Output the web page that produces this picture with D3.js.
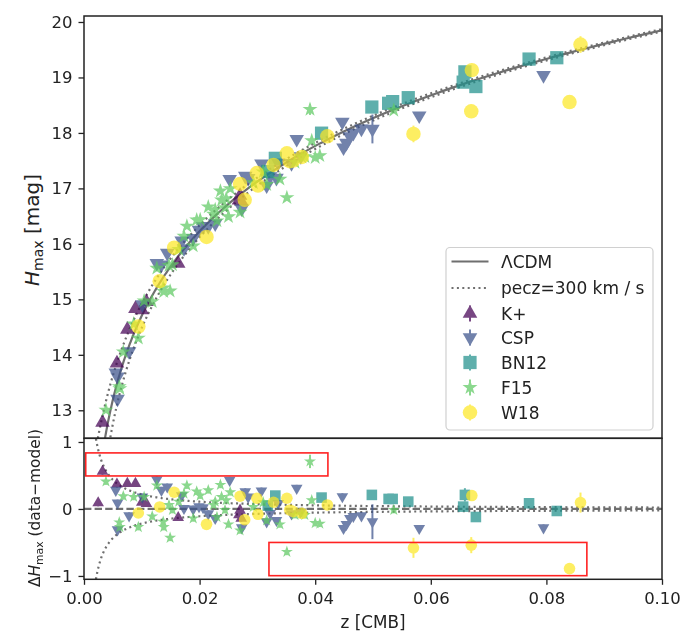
<!DOCTYPE html>
<html><head><meta charset="utf-8">
<script src="https://cdn.jsdelivr.net/npm/d3@7"></script>
<style>body{margin:0;background:#fff} text{font-family:"DejaVu Sans",sans-serif;fill:#222}</style>
</head><body><svg id="c" width="696" height="640"></svg>
<script>
// ---------- data ----------
const surveyNames = ["K+","CSP","BN12","F15","W18"];
const surveyColors = ["#440154","#3b528b","#21918c","#5ec962","#fde725"];
const surveySymbols = ["triUp","triDown","square","star","circle"];
const xTicks = [0,0.02,0.04,0.06,0.08,0.10];
const xTickLabels = ["0.00","0.02","0.04","0.06","0.08","0.10"];
const yTicksTop = [13,14,15,16,17,18,19,20];
const yTicksBottom = [-1,0,1];
const yTickLabelsBottom = ["\u22121","0","1"];
// [z, residual dH (data-model), error]
const dataKplus = [[0.0032,0.56],[0.00245,0.09],[0.0057,0.37],[0.0075,0.38],[0.0089,0.38],[0.0100,0.10],[0.0108,0.08],[0.0163,-0.13],[0.0268,-0.09],[0.0272,-0.14],[0.0270,-0.02]];
const dataCSP = [[0.0055,0.28],[0.0058,0.09],[0.0058,-0.31],[0.0078,-0.10],[0.0101,0.18],[0.0126,0.44],[0.0134,0.28],[0.0144,0.33],[0.0169,0.20],[0.0173,0.01],[0.0189,0.00],[0.0199,0.035],[0.0206,0.02],[0.0215,-0.07],[0.0227,-0.14],[0.0252,0.43],[0.0279,0.26],[0.0284,0.18],[0.0273,-0.28],[0.0307,0.27],[0.0316,-0.19],[0.0322,-0.065],[0.0333,-0.17],[0.0336,0.085],[0.0359,-0.07],[0.0368,0.31],[0.0375,-0.045],[0.0447,0.185],[0.0449,-0.29],[0.0454,-0.23],[0.0460,-0.14],[0.0466,-0.11],[0.0480,-0.10],[0.0499,-0.19,0.26],[0.0580,-0.29],[0.0795,-0.28]];
const dataBN12 = [[0.0318,0.05],[0.0331,0.20],[0.0411,0.17],[0.0498,0.21],[0.0527,0.15],[0.0534,0.15],[0.0561,0.11],[0.0656,0.035],[0.0659,0.21,0.1],[0.0678,-0.12],[0.0770,0.085],[0.0818,-0.03]];
const dataF15 = [[0.0038,0.41],[0.0061,-0.20],[0.0062,-0.27],[0.0068,0.19],[0.0086,0.18],[0.0094,-0.27],[0.0104,0.18],[0.0118,-0.11],[0.0126,0.35],[0.0137,-0.19],[0.0138,-0.27],[0.0149,-0.43],[0.0147,0.06],[0.0153,-0.015],[0.0164,0.11],[0.0173,0.23],[0.0178,0.35],[0.0189,-0.14],[0.0195,0.26],[0.0201,0.20],[0.0215,0.28],[0.0224,0.06],[0.0227,0.11],[0.0230,-0.12],[0.0236,0.36],[0.0238,0.18],[0.0244,-0.015],[0.0246,0.13],[0.0250,-0.23],[0.0253,0.25],[0.0270,-0.32],[0.0293,0.03],[0.0310,0.10],[0.0316,-0.17],[0.0339,-0.23],[0.0351,-0.64],[0.0365,-0.09],[0.0377,-0.07],[0.0382,-0.09],[0.0391,0.71,0.1],[0.0394,0.13],[0.0400,-0.21],[0.0408,-0.22],[0.0536,-0.015]];
const dataW18 = [[0.0094,-0.06],[0.0131,0.03],[0.0156,0.25],[0.0212,-0.23],[0.0270,0.19],[0.0278,-0.16],[0.0299,0.16],[0.0301,-0.08],[0.0328,0.10],[0.0351,0.16],[0.0356,-0.015],[0.0362,-0.04,0.08],[0.0377,-0.065],[0.0421,0.06],[0.0570,-0.58,0.15],[0.0671,0.20],[0.0670,-0.54,0.12],[0.0840,-0.89],[0.0859,0.095,0.15]];
const surveyData = [dataKplus,dataCSP,dataBN12,dataF15,dataW18];
// highlighted regions [z0, z1, dH0, dH1]
const boxes = [[0.0003,0.0422,0.493,0.837],[0.0320,0.0870,-0.996,-0.50]];
// cosmological model parameters
const H0 = 70, q0 = -0.55, Mabs = -18.47, cLight = 299792.458, pecV = 300;
const defaultErr = 0.05;

function lcdm(z){ return Mabs + 25 + 5*Math.log10(cLight*z/H0*(1+(1-q0)/2*z)); }
function peczOffset(z){ return 5/Math.LN10*pecV/(cLight*z); }

// ---------- layout ----------
const svg = d3.select("#c");
const L = 84, R = 662, T1 = 16, B1 = 438.3, T2 = 438.3, B2 = 579.3;
const x = d3.scaleLinear().domain([0,0.1]).range([L,R]);
const yTop = d3.scaleLinear().domain([12.495,20.108]).range([B1,T1]);
const yBot = d3.scaleLinear().domain([-1.05,1.055]).range([B2,T2]);

const defs = svg.append("defs");
defs.append("clipPath").attr("id","clipTop").append("rect").attr("x",L).attr("y",T1).attr("width",R-L).attr("height",B1-T1);
defs.append("clipPath").attr("id","clipBot").append("rect").attr("x",L).attr("y",T2).attr("width",R-L).attr("height",B2-T2);

const lineGray = "#6f6f6f";
const zs = d3.range(Math.log(0.0015), Math.log(0.1005), 0.01).map(Math.exp);

// top panel curves
const gT = svg.append("g").attr("clip-path","url(#clipTop)");
const lineT = d3.line().x(d=>x(d[0])).y(d=>yTop(d[1]));
gT.append("path").attr("d", lineT(zs.map(z=>[z,lcdm(z)]))).attr("fill","none").attr("stroke",lineGray).attr("stroke-width",2.2);
[1,-1].forEach(s=>{
  gT.append("path").attr("d", lineT(zs.map(z=>[z,lcdm(z)+s*peczOffset(z)]))).attr("fill","none")
    .attr("stroke",lineGray).attr("stroke-width",2.2).attr("stroke-dasharray","2,3.4");
});
// bottom panel curves
const gB = svg.append("g").attr("clip-path","url(#clipBot)");
const lineB = d3.line().x(d=>x(d[0])).y(d=>yBot(d[1]));
gB.append("path").attr("d", lineB([[0,0],[0.1,0]])).attr("fill","none").attr("stroke",lineGray).attr("stroke-width",2.2).attr("stroke-dasharray","7.4,3.2");
[1,-1].forEach(s=>{
  gB.append("path").attr("d", lineB(zs.map(z=>[z,s*peczOffset(z)]))).attr("fill","none")
    .attr("stroke",lineGray).attr("stroke-width",2.2).attr("stroke-dasharray","2,3.4");
});

// symbols
function symPath(kind, scale){
  const tri = 92*scale*scale, sq = 175*scale*scale, circ = 165*scale*scale, st = 70*scale*scale;
  if(kind==="triUp" || kind==="triDown") return d3.symbol(d3.symbolTriangle, tri)();
  if(kind==="square") return d3.symbol(d3.symbolSquare, sq)();
  if(kind==="star") return d3.symbol(d3.symbolStar, st)();
  return d3.symbol(d3.symbolCircle, circ)();
}
function drawPoints(g, yScale, yOf, scale){
  surveyData.forEach((arr,i)=>{
    const col = surveyColors[i], kind = surveySymbols[i];
    const gs = g.append("g").attr("opacity",0.72);
    arr.forEach(d=>{
      const e = d[2]!==undefined ? d[2] : defaultErr;
      const yv = yOf(d);
      gs.append("line").attr("x1",x(d[0])).attr("x2",x(d[0]))
        .attr("y1",yScale(yv-e)).attr("y2",yScale(yv+e)).attr("stroke",col).attr("stroke-width",2);
      gs.append("path").attr("d",symPath(kind,scale)).attr("fill",col)
        .attr("transform",`translate(${x(d[0])},${yScale(yv)})`+(kind==="triDown"?" rotate(180)":""));
    });
  });
}
drawPoints(gT, yTop, d=>lcdm(d[0])+d[1], 1);
drawPoints(gB, yBot, d=>d[1], 0.8);

// red boxes
boxes.forEach(b=>{
  svg.append("rect").attr("x",x(b[0])).attr("y",yBot(b[3])).attr("width",x(b[1])-x(b[0])).attr("height",yBot(b[2])-yBot(b[3]))
    .attr("fill","none").attr("stroke","#f22").attr("stroke-width",1.6);
});

// frames
svg.append("rect").attr("x",L).attr("y",T1).attr("width",R-L).attr("height",B1-T1).attr("fill","none").attr("stroke","#222").attr("stroke-width",1.5);
svg.append("rect").attr("x",L).attr("y",T2).attr("width",R-L).attr("height",B2-T2).attr("fill","none").attr("stroke","#222").attr("stroke-width",1.5);

// axes
const fs = 16.5;
const ax1 = svg.append("g").attr("transform",`translate(${L},0)`).call(d3.axisLeft(yTop).tickValues(yTicksTop).tickFormat(d3.format("d")).tickSize(5.5).tickPadding(6));
const ax2 = svg.append("g").attr("transform",`translate(${L},0)`).call(d3.axisLeft(yBot).tickValues(yTicksBottom).tickFormat((d,i)=>yTickLabelsBottom[i]).tickSize(5.5).tickPadding(6));
const ax3 = svg.append("g").attr("transform",`translate(0,${B2})`).call(d3.axisBottom(x).tickValues(xTicks).tickFormat((d,i)=>xTickLabels[i]).tickSize(5.5).tickPadding(7));
[ax1,ax2,ax3].forEach(a=>{
  a.select(".domain").remove();
  a.selectAll(".tick line").attr("stroke","#222").attr("stroke-width",1.3);
  a.selectAll(".tick text").attr("font-size",fs).attr("font-family","DejaVu Sans").attr("fill","#222");
});

// axis labels
const yl1 = svg.append("text").attr("transform","translate(39,230) rotate(-90)").attr("text-anchor","middle").attr("font-size",20);
yl1.append("tspan").attr("font-style","italic").text("H");
yl1.append("tspan").attr("font-size",14).attr("dy",4).text("max");
yl1.append("tspan").attr("dy",-4).text(" [mag]");
const yl2 = svg.append("text").attr("transform","translate(40,508) rotate(-90)").attr("text-anchor","middle").attr("font-size",15.4);
yl2.append("tspan").text("\u0394");
yl2.append("tspan").attr("font-style","italic").text("H");
yl2.append("tspan").attr("font-size",10.8).attr("dy",3).text("max");
yl2.append("tspan").attr("dy",-3).text(" (data\u2212model)");
svg.append("text").attr("x",(L+R)/2).attr("y",628).attr("text-anchor","middle").attr("font-size",16.8).text("z [CMB]");

// legend
const lg = svg.append("g");
lg.append("rect").attr("x",446).attr("y",247.5).attr("width",207).attr("height",182.5).attr("rx",4)
  .attr("fill","#fff").attr("fill-opacity",0.85).attr("stroke","#d0d0d0").attr("stroke-width",1.2);
const legY = [261.5,288,313.5,337.5,362.5,387.5,412.5];
const legLabels = ["\u039bCDM","pecz=300 km / s"].concat(surveyNames);
legLabels.forEach((t,i)=>{
  lg.append("text").attr("x",501).attr("y",legY[i]+6.2).attr("font-size",17).text(t);
});
lg.append("line").attr("x1",451.5).attr("x2",488.5).attr("y1",legY[0]).attr("y2",legY[0]).attr("stroke",lineGray).attr("stroke-width",2.2);
lg.append("line").attr("x1",451.5).attr("x2",488.5).attr("y1",legY[1]).attr("y2",legY[1]).attr("stroke",lineGray).attr("stroke-width",2.2).attr("stroke-dasharray","2,3.4");
surveyNames.forEach((n,i)=>{
  const yy = legY[i+2], col = surveyColors[i], kind = surveySymbols[i];
  const g = lg.append("g").attr("opacity",0.72);
  g.append("line").attr("x1",470).attr("x2",470).attr("y1",yy-8).attr("y2",yy+8).attr("stroke",col).attr("stroke-width",2);
  g.append("path").attr("d",symPath(kind,1)).attr("fill",col).attr("transform",`translate(470,${yy})`+(kind==="triDown"?" rotate(180)":""));
});
</script></body></html>
